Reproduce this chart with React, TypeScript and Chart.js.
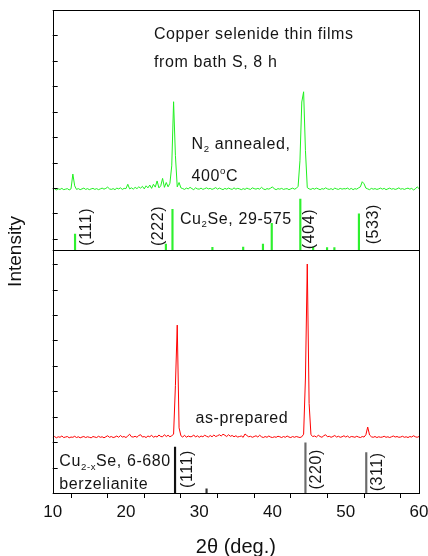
import React, { useEffect, useRef } from 'react';
import { Chart, registerables } from 'chart.js';

Chart.register(...registerables);

const FONT = '"Liberation Sans", Arial, Helvetica, sans-serif';

// 2-theta grid (deg.), shared by both measured patterns
const theta = [
  10.0, 10.25, 10.5, 10.75, 11.0, 11.25, 11.5, 11.75, 12.0, 12.25, 12.5, 12.75,
  13.0, 13.25, 13.5, 13.75, 14.0, 14.25, 14.5, 14.75, 15.0, 15.25, 15.5, 15.75,
  16.0, 16.25, 16.5, 16.75, 17.0, 17.25, 17.5, 17.75, 18.0, 18.25, 18.5, 18.75,
  19.0, 19.25, 19.5, 19.75, 20.0, 20.25, 20.5, 20.75, 21.0, 21.25, 21.5, 21.75,
  22.0, 22.25, 22.5, 22.75, 23.0, 23.25, 23.5, 23.75, 24.0, 24.25, 24.5, 24.75,
  25.0, 25.25, 25.5, 25.75, 26.0, 26.25, 26.5, 26.75, 27.0, 27.25, 27.5, 27.75,
  28.0, 28.25, 28.5, 28.75, 29.0, 29.25, 29.5, 29.75, 30.0, 30.25, 30.5, 30.75,
  31.0, 31.25, 31.5, 31.75, 32.0, 32.25, 32.5, 32.75, 33.0, 33.25, 33.5, 33.75,
  34.0, 34.25, 34.5, 34.75, 35.0, 35.25, 35.5, 35.75, 36.0, 36.25, 36.5, 36.75,
  37.0, 37.25, 37.5, 37.75, 38.0, 38.25, 38.5, 38.75, 39.0, 39.25, 39.5, 39.75,
  40.0, 40.25, 40.5, 40.75, 41.0, 41.25, 41.5, 41.75, 42.0, 42.25, 42.5, 42.75,
  43.0, 43.25, 43.5, 43.75, 44.0, 44.25, 44.5, 44.75, 45.0, 45.25, 45.5, 45.75,
  46.0, 46.25, 46.5, 46.75, 47.0, 47.25, 47.5, 47.75, 48.0, 48.25, 48.5, 48.75,
  49.0, 49.25, 49.5, 49.75, 50.0, 50.25, 50.5, 50.75, 51.0, 51.25, 51.5, 51.75,
  52.0, 52.25, 52.5, 52.75, 53.0, 53.25, 53.5, 53.75, 54.0, 54.25, 54.5, 54.75,
  55.0, 55.25, 55.5, 55.75, 56.0, 56.25, 56.5, 56.75, 57.0, 57.25, 57.5, 57.75,
  58.0, 58.25, 58.5, 58.75, 59.0, 59.25, 59.5, 59.75, 60.0,
];

// as-prepared film (red), intensity in arbitrary units (offset trace)
const asPrepared = [
  127, 131, 126, 130, 128, 133, 127, 129, 131, 126, 129, 128,
  132, 127, 130, 126, 129, 131, 127, 130, 128, 126, 131, 129,
  127, 132, 128, 130, 126, 130, 134, 128, 131, 127, 129, 133,
  128, 135, 129, 131, 127, 133, 140, 130, 129, 132, 128, 135,
  138, 129, 131, 127, 133, 130, 136, 128, 132, 129, 137, 131,
  130, 138, 131, 136, 130, 134, 140, 330, 567, 165, 134, 129,
  136, 128, 133, 130, 131, 137, 129, 134, 128, 133, 130, 136,
  132, 129, 135, 130, 137, 131, 134, 138, 133, 140, 136, 131,
  138, 132, 135, 130, 134, 129, 131, 133, 128, 141, 135, 130,
  132, 128, 131, 134, 129, 136, 130, 127, 131, 128, 133, 129,
  127, 130, 128, 132, 130, 127, 131, 128, 133, 129, 127, 131,
  128, 131, 129, 127, 130, 140, 360, 806, 260, 138, 131, 133,
  129, 136, 131, 128, 134, 138, 130, 132, 128, 131, 135, 129,
  132, 128, 130, 134, 129, 133, 127, 131, 130, 128, 132, 129,
  127, 131, 129, 138, 168, 137, 130, 128, 131, 127, 130, 128,
  129, 132, 128, 130, 127, 130, 133, 129, 131, 128, 129, 132,
  128, 130, 127, 131, 129, 134, 130, 128, 131,
];

// N2 annealed at 400 C (green), offset trace
const annealed = [
  1097, 1101, 1096, 1100, 1098, 1102, 1097, 1099, 1101, 1096, 1100, 1158,
  1112, 1098, 1101, 1097, 1100, 1103, 1098, 1101, 1097, 1100, 1102, 1098,
  1101, 1097, 1100, 1103, 1099, 1102, 1107, 1100, 1098, 1101, 1097, 1103,
  1100, 1104, 1098, 1102, 1101, 1118, 1100, 1104, 1099, 1106, 1101, 1108,
  1103, 1110, 1100, 1112, 1104, 1115, 1102, 1118, 1107, 1131, 1104, 1112,
  1141, 1106, 1125, 1108, 1122, 1190, 1441, 1230, 1108, 1125, 1104, 1101,
  1098, 1103, 1100, 1106, 1101, 1097, 1104, 1100, 1099, 1103, 1098, 1101,
  1104, 1100, 1102, 1098, 1101, 1105, 1099, 1103, 1100, 1097, 1102, 1099,
  1103, 1100, 1098, 1104, 1099, 1102, 1100, 1097, 1101, 1098, 1103, 1100,
  1098, 1104, 1101, 1099, 1102, 1099, 1106, 1100, 1097, 1101, 1099, 1103,
  1108, 1100, 1097, 1101, 1099, 1102, 1098, 1100, 1101, 1097, 1100, 1103,
  1099, 1102, 1110, 1210, 1440, 1480, 1250, 1105, 1100, 1098, 1102, 1099,
  1103, 1100, 1097, 1101, 1099, 1104, 1100, 1098, 1101, 1097, 1103, 1100,
  1098, 1102, 1099, 1101, 1100, 1103, 1098, 1102, 1097, 1101, 1099, 1104,
  1108, 1128, 1120, 1103, 1100, 1097, 1102, 1099, 1101, 1098, 1100, 1103,
  1099, 1102, 1097, 1100, 1103, 1099, 1101, 1098, 1100, 1104, 1099, 1101,
  1098, 1101, 1103, 1099, 1102, 1096, 1100, 1108, 1101,
];

// Reference card Cu2Se, 29-575 (green sticks)
const cu2SeTheta = [13.05, 25.45, 26.35, 31.8, 36.0, 38.7, 39.9, 43.8, 45.55, 47.45, 48.45, 51.8];
const cu2SeTop = [923, 884, 1020, 871, 872, 884, 965, 1060, 872, 870, 870, 1002];
const cu2SeBase = 861;

// Reference card Cu2-xSe, 6-680 berzelianite (dark sticks)
const cu2xSeTheta = [26.7, 31.0, 44.5, 52.8];
const cu2xSeTop = [90, -74, 106, 68];
const cu2xSeBase = -90;
const cu2xSeColors = ['#111111', '#333333', '#6a6a6a', '#6a6a6a'];

const panelDivider = 861;

type Part = { t: string; sub?: boolean; sup?: boolean };
type Note = { x: number; y: number; parts: Part[]; rot?: boolean; align?: CanvasTextAlign; size?: number };

const notes: Note[] = [
  { x: 23.82, y: 1705, parts: [{ t: 'Copper selenide thin films' }] },
  { x: 23.82, y: 1596, parts: [{ t: 'from bath S, 8 h' }] },
  { x: 28.96, y: 1274, parts: [{ t: 'N' }, { t: '2', sub: true }, { t: ' annealed,' }] },
  { x: 28.96, y: 1148, parts: [{ t: '400' }, { t: 'o', sup: true }, { t: 'C' }] },
  { x: 27.37, y: 981, parts: [{ t: 'Cu' }, { t: '2', sub: true }, { t: 'Se, 29-575' }] },
  { x: 14.64, y: 952, rot: true, parts: [{ t: '(111)' }] },
  { x: 24.5, y: 955, rot: true, parts: [{ t: '(222)' }] },
  { x: 45.1, y: 943, rot: true, parts: [{ t: '(404)' }] },
  { x: 53.74, y: 962, rot: true, parts: [{ t: '(533)' }] },
  { x: 35.83, y: 200, align: 'center', parts: [{ t: 'as-prepared' }] },
  { x: 10.9, y: 31, parts: [{ t: 'Cu' }, { t: '2-x', sub: true }, { t: 'Se, 6-680' }] },
  { x: 10.9, y: -59, parts: [{ t: 'berzelianite' }] },
  { x: 28.46, y: 4, rot: true, parts: [{ t: '(111)' }] },
  { x: 46.06, y: 3, rot: true, parts: [{ t: '(220)' }] },
  { x: 54.38, y: -7, rot: true, parts: [{ t: '(311)' }] },
];

function drawParts(ctx: CanvasRenderingContext2D, parts: Part[], x: number, y: number, size: number, align: CanvasTextAlign) {
  const widths: number[] = [];
  let total = 0;
  for (const p of parts) {
    const s = p.sub || p.sup ? size * 0.6 : size;
    ctx.font = `${s}px ${FONT}`;
    const w = ctx.measureText(p.t).width;
    widths.push(w);
    total += w;
  }
  let cx = align === 'center' ? x - total / 2 : x;
  ctx.textAlign = 'left';
  ctx.textBaseline = 'middle';
  parts.forEach((p, i) => {
    const s = p.sub || p.sup ? size * 0.6 : size;
    ctx.font = `${s}px ${FONT}`;
    const dy = p.sub ? size * 0.32 : p.sup ? -size * 0.32 : 0;
    ctx.fillText(p.t, cx, y + dy);
    cx += widths[i];
  });
}

const decor = {
  id: 'decor',
  afterDatasetsDraw(chart: any) {
    const { ctx, chartArea: a, scales } = chart;
    const x = scales.x;
    const y = scales.y;
    ctx.save();
    ctx.strokeStyle = '#000';
    ctx.lineWidth = 1;
    // inward ticks on left axis
    for (const t of y.ticks) {
      const py = Math.round(y.getPixelForValue(t.value)) + 0.5;
      ctx.beginPath();
      ctx.moveTo(a.left, py);
      ctx.lineTo(a.left + 5, py);
      ctx.stroke();
    }
    // panel divider
    const dy = Math.round(y.getPixelForValue(panelDivider)) + 0.5;
    ctx.beginPath();
    ctx.moveTo(a.left, dy);
    ctx.lineTo(a.right, dy);
    ctx.stroke();
    // frame
    const l = Math.round(a.left) + 0.5;
    const tp = Math.round(a.top) + 0.5;
    ctx.strokeRect(l, tp, Math.round(a.right) - Math.round(a.left), Math.round(a.bottom) - Math.round(a.top));
    // annotations
    ctx.fillStyle = '#151515';
    try { (ctx as any).letterSpacing = '0.6px'; } catch (e) {}
    for (const n of notes) {
      const px = x.getPixelForValue(n.x);
      const py = y.getPixelForValue(n.y);
      const size = n.size ?? 16;
      if (n.rot) {
        ctx.save();
        ctx.translate(px, py);
        ctx.rotate(-Math.PI / 2);
        drawParts(ctx, n.parts, 0, 0, size, 'center');
        ctx.restore();
      } else {
        drawParts(ctx, n.parts, px, py, size, n.align ?? 'left');
      }
    }
    ctx.restore();
  },
};

export default function App() {
  const ref = useRef<HTMLCanvasElement | null>(null);

  useEffect(() => {
    if (!ref.current) return;
    const chart = new Chart(ref.current, {
      type: 'line',
      data: {
        datasets: [
          {
            type: 'line',
            data: theta.map((t, i) => ({ x: t, y: annealed[i] })),
            borderColor: '#1ff01f',
            borderWidth: 1,
            pointRadius: 0,
            tension: 0,
          },
          {
            type: 'line',
            data: theta.map((t, i) => ({ x: t, y: asPrepared[i] })),
            borderColor: '#ff0000',
            borderWidth: 1,
            pointRadius: 0,
            tension: 0,
          },
          {
            type: 'bar',
            data: cu2SeTheta.map((t, i) => ({ x: t, y: [cu2SeBase, cu2SeTop[i]] })),
            backgroundColor: '#2ef02e',
            barThickness: 1.5,
            grouped: false,
            borderWidth: 0,
          } as any,
          {
            type: 'bar',
            data: cu2xSeTheta.map((t, i) => ({ x: t, y: [cu2xSeBase, cu2xSeTop[i]] })),
            backgroundColor: cu2xSeColors,
            barThickness: 1.5,
            grouped: false,
            borderWidth: 0,
          } as any,
        ],
      },
      options: {
        responsive: false,
        animation: false,
        events: [],
        layout: { padding: { top: 10, right: 9, left: 0, bottom: 0 } },
        plugins: { legend: { display: false }, tooltip: { enabled: false } },
        scales: {
          x: {
            type: 'linear',
            min: 10,
            max: 60,
            offset: false,
            ticks: {
              stepSize: 5,
              autoSkip: false,
              maxRotation: 0,
              padding: 4,
              color: '#111',
              font: { family: FONT, size: 17 },
              callback: (v: any) => (Number(v) % 10 === 0 ? String(v) : ''),
            },
            grid: { drawOnChartArea: false, drawTicks: true, tickLength: 5, color: '#000' },
            border: { display: false },
            title: {
              display: true,
              text: '2\u03b8 (deg.)',
              color: '#111',
              font: { family: FONT, size: 20, lineHeight: 1 },
              padding: { top: 0, bottom: -1 },
            },
            afterFit: (s: any) => {
              s.height = 63;
              s.paddingLeft = 0;
              s.paddingRight = 0;
            },
          },
          y: {
            type: 'linear',
            min: -90,
            max: 1800,
            ticks: { display: false, stepSize: 100 },
            grid: { display: false },
            border: { display: false },
            title: {
              display: true,
              text: 'Intensity',
              color: '#111',
              font: { family: FONT, size: 19, lineHeight: 1 },
              padding: { top: 6.5, bottom: 0 },
            },
            afterFit: (s: any) => {
              s.width = 52.7;
              s.paddingTop = 0;
              s.paddingBottom = 0;
            },
          },
        },
      } as any,
      plugins: [decor],
    });
    return () => chart.destroy();
  }, []);

  return (
    <div style={{ position: 'fixed', left: 0, top: 0, width: 428, height: 556, background: '#fff' }}>
      <canvas ref={ref} width={428} height={556} style={{ display: 'block' }} />
    </div>
  );
}
